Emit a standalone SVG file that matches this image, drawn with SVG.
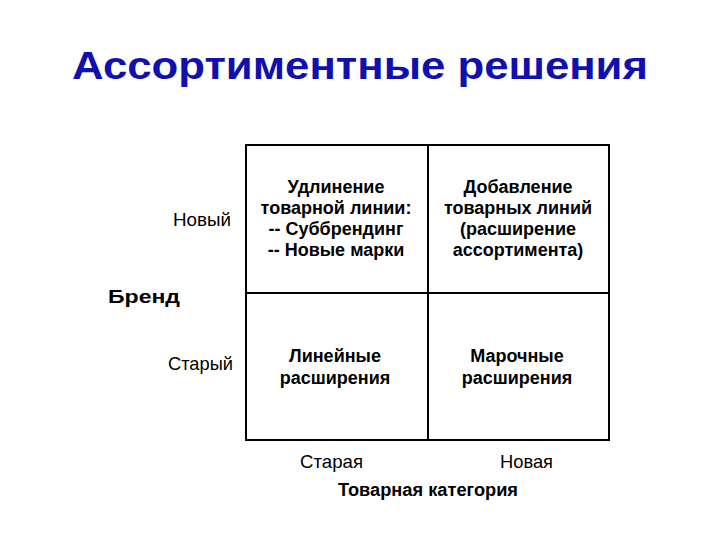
<svg xmlns="http://www.w3.org/2000/svg" width="720" height="540" viewBox="0 0 720 540">
<style>
text{font-family:"Liberation Sans",Arial,sans-serif;fill:#000}
.t{font-size:39px;font-weight:bold;fill:#1010b0}
.c{font-size:18px;font-weight:bold;text-anchor:middle}
.l{font-size:18.5px}
.b{font-size:18px;font-weight:bold}
.g{stroke:#000;stroke-width:2;fill:none}
</style>
<rect width="720" height="540" fill="#fff"/>
<text class="t" x="72" y="79" textLength="576" lengthAdjust="spacingAndGlyphs">Ассортиментные решения</text>
<g id="grid">
<rect class="g" x="246" y="145" width="363" height="295"/>
<line class="g" x1="428" y1="145" x2="428" y2="440"/>
<line class="g" x1="246" y1="293" x2="609" y2="293"/>
</g>
<g id="cell-tl">
<text class="c" x="336" y="193">Удлинение</text>
<text class="c" x="336" y="214">товарной линии:</text>
<text class="c" x="336" y="235">-- Суббрендинг</text>
<text class="c" x="336" y="256">-- Новые марки</text>
</g>
<g id="cell-tr">
<text class="c" x="518" y="193">Добавление</text>
<text class="c" x="518" y="214">товарных линий</text>
<text class="c" x="518" y="235">(расширение</text>
<text class="c" x="518" y="256">ассортимента)</text>
</g>
<g id="cell-bl">
<text class="c" x="335" y="362">Линейные</text>
<text class="c" x="335" y="384">расширения</text>
</g>
<g id="cell-br">
<text class="c" x="517" y="362">Марочные</text>
<text class="c" x="517" y="384">расширения</text>
</g>
<g id="labels">
<text class="l" x="173" y="226" textLength="58" lengthAdjust="spacingAndGlyphs">Новый</text>
<text class="b" x="108" y="303" textLength="72" lengthAdjust="spacingAndGlyphs">Бренд</text>
<text class="l" x="168" y="370" textLength="65" lengthAdjust="spacingAndGlyphs">Старый</text>
<text class="l" x="300" y="468" textLength="63" lengthAdjust="spacingAndGlyphs">Старая</text>
<text class="l" x="500" y="468" textLength="53" lengthAdjust="spacingAndGlyphs">Новая</text>
<text class="b" x="338" y="496" textLength="180" lengthAdjust="spacingAndGlyphs">Товарная категория</text>
</g>
</svg>
